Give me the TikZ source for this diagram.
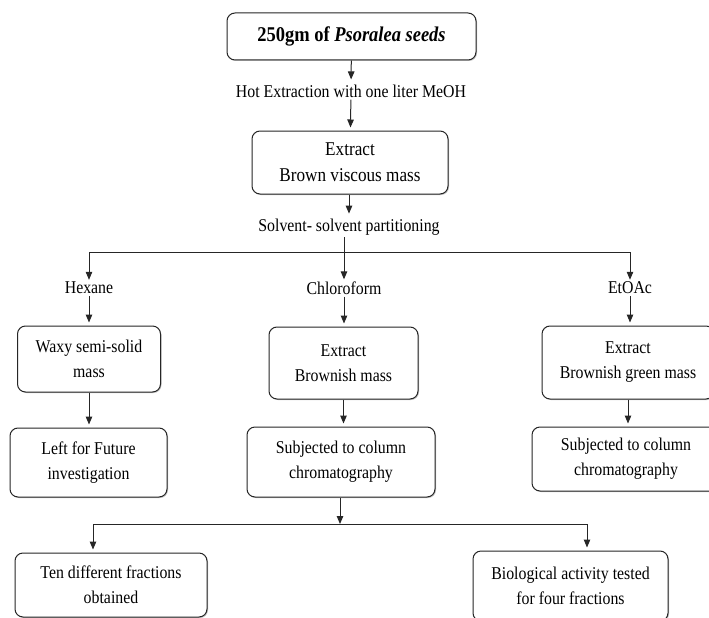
\documentclass[tikz,border=0pt]{standalone}
\usepackage{fontspec}
\setmainfont{Liberation Serif}[FakeStretch=0.88]
\usetikzlibrary{arrows.meta,shadows}
\definecolor{FlowLine}{HTML}{262626}
\definecolor{FlowShadow}{HTML}{9A9A9A}

\begin{document}
\begin{tikzpicture}[x=1pt, y=-1pt,
  box/.style={draw=FlowLine, line width=1pt, rounded corners=8pt, fill=white, align=center,
    font=\fontsize{18}{25}\selectfont, inner sep=2pt,
    drop shadow={shadow xshift=1pt, shadow yshift=-1pt, fill=FlowShadow, opacity=0.6}},
  lbl/.style={align=center, font=\fontsize{18}{20}\selectfont, inner sep=2pt},
  arr/.style={draw=FlowLine, line width=1pt, -{Triangle[length=8pt,width=6.5pt]}, shorten >=3pt},
  link/.style={draw=FlowLine, line width=1pt}]
  \useasboundingbox (0,0) rectangle (709,618);

  % Start and methanol extraction
  \node[box, minimum width=249pt, minimum height=47pt, font=\fontsize{21}{22}\selectfont] (seeds) at (351.5,36.5)
    {\textbf{250gm of \textit{Psoralea seeds}}};
  \node[lbl] (hot) at (351,91) {Hot Extraction with one liter MeOH};
  \node[box, minimum width=196pt, minimum height=63pt, font=\fontsize{19.5}{26}\selectfont] (extract) at (350,162.5)
    {Extract\\Brown viscous mass};
  \node[lbl] (solvent) at (349,227) {Solvent- solvent partitioning};

  % Solvent fractions
  \coordinate (split) at (344,252);
  \node[lbl] (hexane) at (89,288) {Hexane};
  \node[lbl] (chloro) at (344,288) {Chloroform};
  \node[lbl] (etoac) at (630,288) {EtOAc};

  \node[box, minimum width=143pt, minimum height=66pt] (waxy) at (89,359) {Waxy semi-solid\\mass};
  \node[box, minimum width=149pt, minimum height=72pt] (brownish) at (343.5,363) {Extract\\Brownish mass};
  \node[box, minimum width=172pt, minimum height=73pt] (green) at (628,362.5) {Extract\\Brownish green mass};

  \node[box, minimum width=157pt, minimum height=69pt] (future) at (88.5,462.5) {Left for Future\\investigation};
  \node[box, minimum width=188pt, minimum height=70pt] (colchl) at (341,462) {Subjected to column\\chromatography};
  \node[box, minimum width=188pt, minimum height=64pt] (coleto) at (626,459) {Subjected to column\\chromatography};

  % Column chromatography results
  \coordinate (join) at (340,524);
  \node[box, minimum width=192pt, minimum height=64pt] (ten) at (111,585) {Ten different fractions\\obtained};
  \node[box, minimum width=195pt, minimum height=70pt] (bio) at (570.5,586) {Biological activity tested\\for four fractions};

  % Connectors
  \draw[arr] (seeds) -- (hot);
  \draw[arr] (hot) -- (extract);
  \draw[arr] (extract.south -| solvent) -- (solvent);
  \draw[arr, shorten >=0pt] (solvent.south -| chloro) -- (chloro);
  \draw[arr, shorten >=0pt] (split) -| (hexane);
  \draw[arr, shorten >=0pt] (split) -| (etoac);
  \draw[arr] (hexane) -- (hexane |- waxy.north);
  \draw[arr] (chloro) -- (chloro |- brownish.north);
  \draw[arr] (etoac) -- (etoac |- green.north);
  \draw[arr] (waxy.south) -- (waxy.south |- future.north);
  \draw[arr] (brownish.south) -- (brownish.south |- colchl.north);
  \draw[arr] (green.south) -- (green.south |- coleto.north);
  \draw[arr, shorten >=0pt] (colchl.south -| join) -- (join);
  \draw[arr] (join) -| ([xshift=-18pt]ten.north);
  \draw[arr] (join) -| ([xshift=16.5pt]bio.north);
\end{tikzpicture}
\end{document}
